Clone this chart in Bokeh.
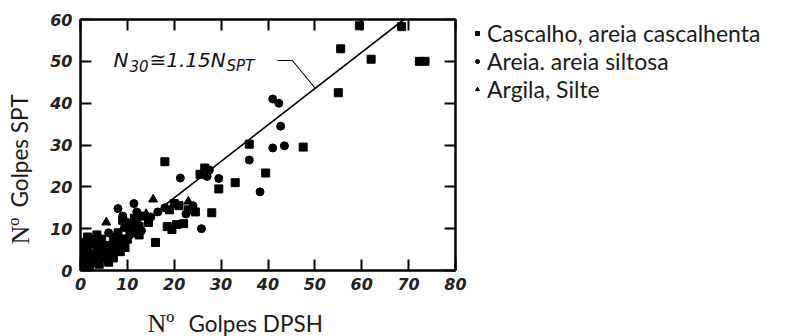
import numpy as np
from bokeh.plotting import figure
from bokeh.layouts import row, column
from bokeh.models import (Range1d, LinearAxis, FixedTicker, Label, Legend,
                          LegendItem, CustomJSTickFormatter)
from bokeh.embed import file_html
from bokeh.resources import INLINE

# ---- data ----
gravel_x = [59.5, 68.5, 55.5, 62.0, 72.3, 73.5, 55.0, 47.5, 36.0, 39.5, 33.0, 29.5, 28.0,
            18.0, 26.5, 25.5, 16.0, 18.5, 20.5, 22.0, 19.5, 21.0, 23.0, 24.5, 20.0, 19.0,
            13.5, 14.5, 12.5, 11.0, 10.0, 12.0, 9.5, 8.0, 0.5, 1.0, 1.5, 2.5, 3.0, 3.5,
            4.5, 5.5, 6.5, 7.5, 8.5, 9.5, 2.0, 4.0, 5.0, 7.0, 8.5, 3.0, 0.5, 1.5, 0.7, 6.0,
            0.3, 1.2, 2.0, 3.0, 4.0, 5.0, 6.0, 7.0, 8.0, 9.0, 2.5, 1.0, 3.5, 4.5, 10.5,
            11.5, 12.5, 9.0]
gravel_y = [58.5, 58.3, 53.0, 50.5, 50.0, 50.0, 42.5, 29.5, 30.2, 23.3, 21.0, 19.5, 13.8,
            26.0, 24.5, 23.0, 6.7, 10.5, 11.0, 11.2, 9.8, 15.5, 14.5, 14.0, 16.0, 14.5,
            13.0, 11.5, 10.5, 9.0, 7.5, 12.0, 10.5, 9.0, 1.0, 3.0, 5.0, 2.0, 4.0, 6.0,
            5.0, 4.5, 4.0, 5.0, 4.5, 5.5, 0.5, 1.5, 3.0, 6.5, 6.0, 7.5, 6.0, 8.0, 4.0, 2.0,
            2.0, 1.5, 3.5, 2.5, 3.0, 5.5, 6.0, 3.0, 7.0, 7.5, 6.5, 5.5, 8.5, 7.5, 10.0,
            12.5, 8.5, 12.0]
sand_x = [41.0, 42.3, 42.7, 41.0, 43.5, 36.0, 38.3, 29.5, 21.3, 27.0, 25.8, 11.4, 8.0,
          9.0, 10.0, 11.5, 13.0, 15.0, 16.5, 22.5, 7.0, 4.0, 2.0, 1.0, 6.0, 10.5, 12.0,
          18.0, 24.0, 27.5, 1.0]
sand_y = [41.0, 40.0, 34.5, 29.3, 29.8, 26.4, 18.8, 22.0, 22.1, 22.5, 10.0, 16.0, 14.8,
          13.0, 11.5, 11.0, 9.5, 12.8, 14.0, 13.5, 8.0, 6.5, 2.5, 7.0, 9.0, 8.5, 14.0,
          15.0, 15.5, 24.0, 0.5]
clay_x = [15.5, 5.5, 2.0, 9.0, 14.0, 23.0]
clay_y = [17.0, 11.5, 4.5, 10.0, 13.5, 16.5]

x_ticks = [0, 10, 20, 30, 40, 50, 60, 70, 80]
y_ticks = [0, 10, 20, 30, 40, 50, 60]
ratio = 1.15                      # N30 ~= 1.15 N_SPT
line_x = [18.0, 69.0]
leader_x = [42.0, 45.2, 50.1]
leader_y = [50.2, 50.2, 43.5]

series_labels = ["Cascalho, areia cascalhenta", "Areia. areia siltosa", "Argila, Silte"]
title_prefix = "N\u00ba"
x_title = "Golpes DPSH"
y_title = "Golpes SPT"

TOTAL_W = 792
TOTAL_H = 336
TOP_H = 300      # row holding the plot
BOT_H = TOTAL_H - TOP_H   # strip holding the x-axis title
TITLE_W = 40     # strip holding the y-axis title
MAIN_W = 432


def blank(width, height, top=0):
    f = figure(width=width, height=height, output_backend="svg", toolbar_location=None,
               x_axis_type=None, y_axis_type=None,
               x_range=Range1d(1000, 1001), y_range=Range1d(1000, 1001),
               min_border_left=0, min_border_right=0, min_border_top=top,
               min_border_bottom=0)
    f.grid.visible = False
    f.outline_line_color = None
    f.background_fill_color = "white"
    f.border_fill_color = "white"
    return f


# ---- main figure ----
p = figure(width=MAIN_W, height=TOP_H, output_backend="svg", toolbar_location=None,
           x_range=Range1d(0, 80), y_range=Range1d(0, 60),
           min_border_left=40, min_border_right=17, min_border_top=19,
           min_border_bottom=30)
p.grid.visible = False
p.outline_line_color = "black"
p.outline_line_width = 2
p.background_fill_color = "white"
p.border_fill_color = "white"


def style_axis(ax, ticks, show_labels):
    ax.ticker = FixedTicker(ticks=ticks)
    ax.axis_line_color = "black"
    ax.axis_line_width = 2
    ax.major_tick_line_color = "black"
    ax.major_tick_line_width = 2
    ax.major_tick_in = 11
    ax.major_tick_out = 0
    ax.minor_tick_line_color = None
    if show_labels:
        ax.major_label_text_font = "DejaVu Sans"
        ax.major_label_text_font_style = "bold italic"
        ax.major_label_text_font_size = "16px"
        ax.major_label_text_color = "#222222"
    else:
        ax.formatter = CustomJSTickFormatter(code="return ''")
        ax.major_label_standoff = 0


style_axis(p.xaxis[0], x_ticks, True)
style_axis(p.yaxis[0], y_ticks, True)
p.xaxis[0].major_label_standoff = 7
p.yaxis[0].major_label_standoff = 8

top_axis = LinearAxis()
style_axis(top_axis, x_ticks, False)
p.add_layout(top_axis, "above")
right_axis = LinearAxis()
style_axis(right_axis, y_ticks, False)
p.add_layout(right_axis, "right")

# trend line and leader
lx = np.array(line_x)
p.line(lx, lx / ratio, line_color="black", line_width=1.6)
p.line(leader_x, leader_y, line_color="black", line_width=1.1)

# points
p.scatter(gravel_x, gravel_y, marker="square", size=8, color="black")
p.scatter(sand_x, sand_y, marker="circle", size=8, color="black")
p.scatter(clay_x, clay_y, marker="triangle", size=9, color="black")


def lab(fig, text, x, y, size, font="DejaVu Sans", style="italic", angle=0.0,
        color="#111111"):
    fig.add_layout(Label(x=x, y=y, x_units="screen", y_units="screen", text=text,
                         text_font=font, text_font_style=style, text_font_size=size,
                         text_color=color, text_baseline="alphabetic", angle=angle))


# equation annotation (inside the frame)
lab(p, "N", 33, 211, "20px")
lab(p, "30", 49, 205, "15px")
lab(p, "\u22451.15N", 69, 211, "20px")
lab(p, "SPT", 146, 205, "15px")

# ---- y-axis title strip (its frame is aligned with the plot frame) ----
yfig = blank(TITLE_W, TOP_H)
lab(yfig, title_prefix, 20, 26, "26px", font="Liberation Serif", style="normal",
    angle=np.pi / 2, color="#1a1a1a")
lab(yfig, y_title, 19, 63, "22.5px", font="Lato", style="normal",
    angle=np.pi / 2, color="#1a1a1a")

# ---- legend strip ----
q = blank(TOTAL_W - TITLE_W - MAIN_W, TOP_H, top=19)
lg_sq = q.scatter(gravel_x, gravel_y, marker="square", size=7, color="black")
lg_ci = q.scatter(sand_x, sand_y, marker="circle", size=7, color="black")
lg_tr = q.scatter(clay_x, clay_y, marker="triangle", size=8, color="black")
legend = Legend(items=[LegendItem(label=series_labels[0], renderers=[lg_sq]),
                       LegendItem(label=series_labels[1], renderers=[lg_ci]),
                       LegendItem(label=series_labels[2], renderers=[lg_tr])],
                location="top_left")
legend.label_text_font = "Lato"
legend.label_text_font_size = "23px"
legend.label_text_color = "#1a1a1a"
legend.label_height = 26
legend.glyph_height = 26
legend.glyph_width = 10
legend.label_standoff = 5
legend.spacing = 0
legend.padding = 0
legend.margin = 0
legend.border_line_color = None
legend.background_fill_alpha = 0
q.add_layout(legend)

# ---- x-axis title strip ----
xfig = blank(TOTAL_W, BOT_H)
lab(xfig, title_prefix, 147, 13, "26px", font="Liberation Serif", style="normal",
    color="#1a1a1a")
lab(xfig, x_title, 188, 13, "22.5px", font="Lato", style="normal", color="#1a1a1a")

layout = column(row(yfig, p, q, spacing=0), xfig, spacing=0)
open("out.html", "w").write(file_html(layout, INLINE))
